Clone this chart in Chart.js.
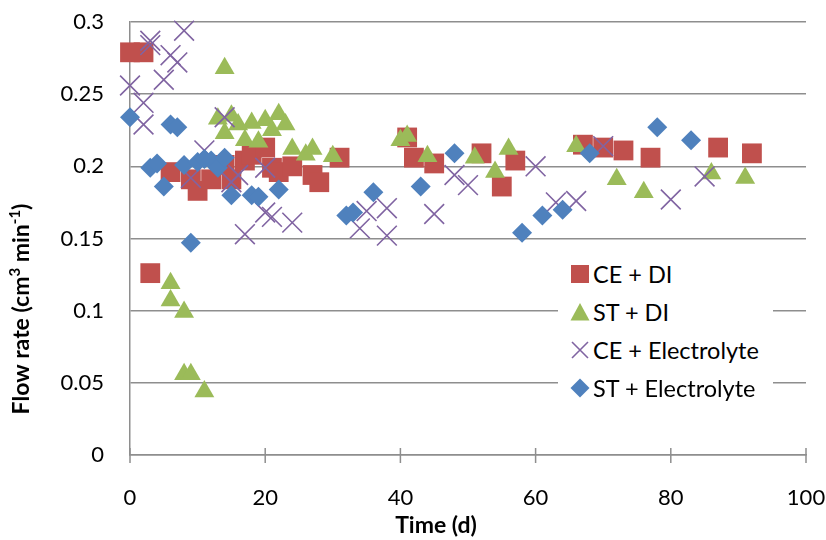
<!DOCTYPE html>
<html><head><meta charset="utf-8">
<script src="https://cdn.jsdelivr.net/npm/chart.js@4.4.1/dist/chart.umd.min.js"></script>
<style>
html,body{margin:0;padding:0;background:#fff;}
#wrap{position:relative;width:826px;height:540px;overflow:hidden;}
#legend{position:absolute;left:558px;top:255px;width:215px;height:150px;background:#fff;font-family:Lato,sans-serif;font-size:23.5px;color:#000;}
.row{position:absolute;left:0;width:215px;height:38px;line-height:38px;white-space:nowrap;}
.row svg{position:absolute;left:12px;top:9px;}
.row span{position:absolute;left:35px;top:0;}
</style></head>
<body><div id="wrap"><canvas id="c" width="826" height="540"></canvas><div id="legend"></div></div>
<script>
// ---- data ----
const seriesNames = ['CE + DI', 'ST + DI', 'CE + Electrolyte', 'ST + Electrolyte'];

const ceDiDays = [0, 2, 3, 6, 9, 10, 12, 14, 15, 17, 18, 20, 21, 22, 24, 27, 28, 31, 41, 42, 45, 52, 55, 57, 67, 70, 73, 77, 87, 92];
const ceDiFlow = [0.279, 0.279, 0.126, 0.196, 0.191, 0.183, 0.191, 0.201, 0.191, 0.204, 0.208, 0.213, 0.199, 0.196, 0.200, 0.194, 0.189, 0.206, 0.220, 0.206, 0.202, 0.209, 0.186, 0.204, 0.215, 0.213, 0.211, 0.206, 0.213, 0.209];

const stDiDays = [6, 6, 8, 8, 9, 11, 13, 14, 14, 15, 16, 17, 18, 19, 20, 21, 22, 23, 24, 26, 27, 30, 40, 41, 44, 51, 54, 56, 66, 72, 76, 86, 91];
const stDiFlow = [0.119, 0.107, 0.099, 0.056, 0.056, 0.044, 0.233, 0.268, 0.223, 0.235, 0.229, 0.218, 0.230, 0.217, 0.232, 0.225, 0.236, 0.229, 0.212, 0.208, 0.212, 0.207, 0.218, 0.221, 0.207, 0.206, 0.196, 0.212, 0.214, 0.191, 0.182, 0.195, 0.192];

const ceElDays = [0, 2, 2, 3, 3, 5, 6, 7, 8, 9, 11, 14, 15, 16, 17, 20, 20, 21, 24, 34, 35, 38, 38, 45, 48, 50, 60, 63, 66, 70, 80, 85];
const ceElFlow = [0.256, 0.244, 0.229, 0.287, 0.284, 0.260, 0.277, 0.272, 0.294, 0.192, 0.211, 0.234, 0.189, 0.194, 0.153, 0.199, 0.168, 0.165, 0.161, 0.157, 0.169, 0.171, 0.152, 0.167, 0.194, 0.187, 0.200, 0.175, 0.176, 0.214, 0.177, 0.193];

const stElDays = [0, 3, 4, 5, 6, 7, 8, 9, 10, 11, 12, 13, 14, 15, 18, 19, 22, 32, 33, 36, 43, 48, 58, 61, 64, 68, 78, 83];
const stElFlow = [0.234, 0.199, 0.202, 0.186, 0.229, 0.227, 0.201, 0.147, 0.203, 0.205, 0.204, 0.199, 0.206, 0.180, 0.180, 0.179, 0.184, 0.166, 0.168, 0.182, 0.186, 0.209, 0.154, 0.166, 0.170, 0.209, 0.227, 0.218];

const xTickValues = [0, 20, 40, 60, 80, 100];
const xTickLabels = ['0', '20', '40', '60', '80', '100'];
const yTickValues = [0, 0.05, 0.1, 0.15, 0.2, 0.25, 0.3];
const yTickLabels = ['0', '0.05', '0.1', '0.15', '0.2', '0.25', '0.3'];
const xTitle = 'Time (d)';

// ---- styles ----
const colors = ['#C0504D', '#9BBB59', '#8064A2', '#4F81BD'];
const gridColor = '#8e8e8e';
const FONT = 'Lato';

function pts(days, flow) { return days.map((d, i) => ({ x: d, y: flow[i] })); }

Chart.defaults.font.family = FONT;
Chart.defaults.color = '#000';

const axisDecor = {
  id: 'axisDecor',
  beforeDatasetsDraw(chart) {
    const ctx = chart.ctx, xs = chart.scales.x, ys = chart.scales.y;
    const y0 = ys.getPixelForValue(0);
    ctx.save();
    ctx.strokeStyle = gridColor; ctx.lineWidth = 1.5;
    xTickValues.forEach(v => {
      const px = xs.getPixelForValue(v);
      ctx.beginPath(); ctx.moveTo(px, y0 - 7); ctx.lineTo(px, y0 + 8); ctx.stroke();
    });
    ctx.restore();
  },
  afterDraw(chart) {
    const ctx = chart.ctx;
    ctx.save();
    ctx.fillStyle = '#000';
    ctx.font = 'bold 23px ' + FONT;
    ctx.textAlign = 'center'; ctx.textBaseline = 'middle';
    ctx.fillText(xTitle, 436, 526);
    // y title with superscripts
    const segs = [['Flow rate (cm', 0], ['3', 1], [' min', 0], ['-1', 1], [')', 0]];
    const big = 'bold 23px ' + FONT, small = 'bold 15px ' + FONT;
    let total = 0;
    segs.forEach(s => { ctx.font = s[1] ? small : big; total += ctx.measureText(s[0]).width; });
    ctx.translate(22, 309); ctx.rotate(-Math.PI / 2);
    ctx.textAlign = 'left';
    let x = -total / 2;
    segs.forEach(s => {
      ctx.font = s[1] ? small : big;
      ctx.fillText(s[0], x, s[1] ? -7 : 0);
      x += ctx.measureText(s[0]).width;
    });
    ctx.restore();
  }
};

new Chart(document.getElementById('c'), {
  type: 'scatter',
  data: {
    datasets: [
      { label: seriesNames[0], data: pts(ceDiDays, ceDiFlow), pointStyle: 'rect', pointRadius: 14, backgroundColor: colors[0], borderColor: colors[0], borderWidth: 0, clip: false, order: 4 },
      { label: seriesNames[1], data: pts(stDiDays, stDiFlow), pointStyle: 'triangle', pointRadius: 11.5, backgroundColor: colors[1], borderColor: colors[1], borderWidth: 0, clip: false, order: 3 },
      { label: seriesNames[2], data: pts(ceElDays, ceElFlow), pointStyle: 'crossRot', pointRadius: 14, backgroundColor: colors[2], borderColor: colors[2], borderWidth: 1.6, clip: false, order: 2 },
      { label: seriesNames[3], data: pts(stElDays, stElFlow), pointStyle: 'rectRot', pointRadius: 10, backgroundColor: colors[3], borderColor: colors[3], borderWidth: 0, clip: false, order: 1 }
    ]
  },
  options: {
    responsive: false, animation: false, devicePixelRatio: 1,
    layout: { padding: { top: 22, right: 20, left: 0, bottom: 0 } },
    plugins: { legend: { display: false }, tooltip: { enabled: false } },
    scales: {
      x: {
        type: 'linear', min: 0, max: 100,
        afterBuildTicks: s => { s.ticks = xTickValues.map(v => ({ value: v })); },
        ticks: { callback: v => xTickLabels[xTickValues.indexOf(v)], font: { size: 22 }, color: '#000', padding: 0, maxRotation: 0, autoSkip: false },
        grid: { display: false, drawTicks: true, tickLength: 30 },
        border: { display: true, color: gridColor, width: 1.5 },
        afterFit: s => { s.height = 85; }
      },
      y: {
        min: 0, max: 0.3,
        afterBuildTicks: s => { s.ticks = yTickValues.map(v => ({ value: v })); },
        ticks: { callback: v => yTickLabels[yTickValues.indexOf(v)], font: { size: 22 }, color: '#000', padding: 0, autoSkip: false },
        grid: { color: gridColor, lineWidth: 1.5, drawTicks: true, tickLength: 26, tickColor: 'rgba(0,0,0,0)' },
        border: { display: true, color: gridColor, width: 1.5 },
        afterFit: s => { s.width = 130; }
      }
    }
  },
  plugins: [axisDecor]
});

// ---- legend (HTML) ----
const markerSvgs = [
  `<svg width="20" height="20"><rect x="1" y="1" width="18" height="18" fill="${colors[0]}"/></svg>`,
  `<svg width="20" height="20"><polygon points="10,1 19.5,18.5 0.5,18.5" fill="${colors[1]}"/></svg>`,
  `<svg width="20" height="20"><path d="M2,2 L18,18 M18,2 L2,18" stroke="${colors[2]}" stroke-width="1.6" fill="none"/></svg>`,
  `<svg width="20" height="20"><polygon points="10,0.5 19.5,10 10,19.5 0.5,10" fill="${colors[3]}"/></svg>`
];
const legend = document.getElementById('legend');
const rowCenters = [274, 312, 350, 388];
seriesNames.forEach((n, i) => {
  const r = document.createElement('div');
  r.className = 'row';
  r.style.top = (rowCenters[i] - 19 - 255) + 'px';
  r.innerHTML = markerSvgs[i] + '<span>' + n + '</span>';
  legend.appendChild(r);
});
</script>
</body></html>
